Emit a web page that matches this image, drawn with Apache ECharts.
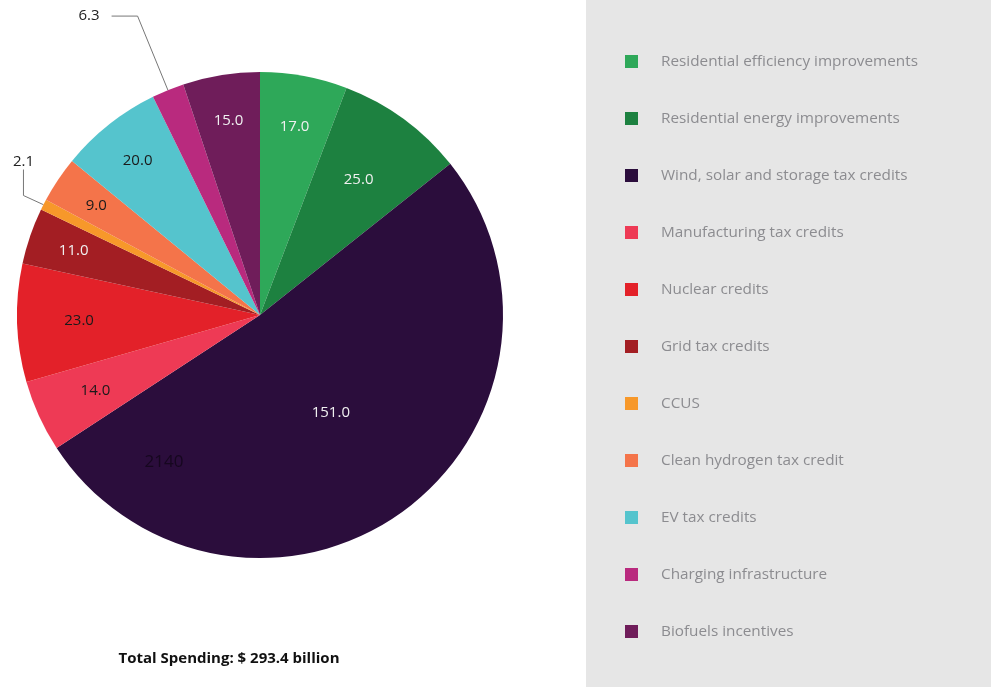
<!DOCTYPE html>
<html>
<head>
<meta charset="utf-8">
<script src="https://cdn.jsdelivr.net/npm/echarts@6/dist/echarts.min.js"></script>
<style>
html,body{margin:0;padding:0;background:#fff;}
#main{width:991px;height:687px;}
</style>
</head>
<body>
<div id="main"></div>
<script>
const categories = [
  'Residential efficiency improvements',
  'Residential energy improvements',
  'Wind, solar and storage tax credits',
  'Manufacturing tax credits',
  'Nuclear credits',
  'Grid tax credits',
  'CCUS',
  'Clean hydrogen tax credit',
  'EV tax credits',
  'Charging infrastructure',
  'Biofuels incentives'
];
const values = [17.0, 25.0, 151.0, 14.0, 23.0, 11.0, 2.1, 9.0, 20.0, 6.3, 15.0];
const totalText = 'Total Spending: $ 293.4 billion';
const strayText = '2140';

const palette = ['#2ea859','#1d8140','#2b0d3c','#ee3a55','#e32129','#a31e23','#f7982a','#f4744a','#55c4cd','#b92a7e','#6f1d5a'];
const labelInk = ['#f0f0f0','#f0f0f0','#f0f0f0','#1a1a1a','#1a1a1a','#f0f0f0','#1a1a1a','#1a1a1a','#1a1a1a','#f0f0f0','#f0f0f0'];
const outsideIdx = [6, 9];

const FONT = '"Open Sans", "Noto Sans", sans-serif';
const CENTER = [260, 315];
const R = 243;

const mainData = categories.map((n, i) => ({
  name: n, value: values[i],
  itemStyle: { color: palette[i] },
  label: { show: outsideIdx.includes(i) }
}));

function labelRingData(idxList) {
  return categories.map((n, i) => ({
    name: n, value: values[i],
    label: { show: idxList.includes(i), color: labelInk[i] }
  }));
}

// ring whose mid-radius equals the wanted label distance
function labelRing(name, labelDist, idxList) {
  return {
    type: 'pie', name: name, silent: true,
    center: CENTER, radius: [2 * labelDist - R, R],
    startAngle: 90, clockwise: true,
    data: labelRingData(idxList),
    legendHoverLink: false,
    itemStyle: { color: 'rgba(0,0,0,0)', borderWidth: 0 },
    label: { position: 'inside', formatter: p => p.value.toFixed(1), fontFamily: FONT, fontSize: 15 },
    labelLine: { show: false }
  };
}

const chart = echarts.init(document.getElementById('main'), null, {renderer: 'canvas'});
chart.setOption({
  animation: false,
  backgroundColor: '#ffffff',
  graphic: [
    { type: 'rect', left: 586, top: 0, z: -10, shape: { width: 405, height: 687 }, style: { fill: '#e6e6e6' } }
  ],
  title: [
    { text: totalText, left: 224, top: 646, textAlign: 'center',
      textStyle: { fontFamily: FONT, fontWeight: 'bold', fontSize: 15, color: '#111' } },
    { text: strayText, left: 159, top: 449, textAlign: 'center',
      textStyle: { fontFamily: FONT, fontWeight: 'normal', fontSize: 17, color: '#16071f' } }
  ],
  legend: {
    orient: 'vertical',
    left: 620, top: 49,
    itemWidth: 13, itemHeight: 13,
    itemGap: 42,
    icon: 'rect',
    data: categories,
    selectedMode: false,
    textStyle: { fontFamily: FONT, fontSize: 15.3, color: '#8c8c90', lineHeight: 14, padding: [0,0,0,18] }
  },
  series: [
    {
      type: 'pie', name: 'main',
      center: CENTER, radius: [0, R],
      startAngle: 90, clockwise: true,
      data: mainData,
      legendHoverLink: false,
      itemStyle: { borderWidth: 0 },
      label: {
        position: 'outside',
        formatter: p => p.value.toFixed(1),
        fontFamily: FONT, fontSize: 15, color: '#222',
        distanceToLabelLine: 12
      },
      labelLine: { show: true, length: 80, length2: 26, lineStyle: { color: '#777', width: 1 } },
      labelLayout: function (p) {
        if (p.dataIndex === 6) return { x: 34, y: 162, align: 'right', verticalAlign: 'middle' };
        return {};
      },
      avoidLabelOverlap: false
    },
    labelRing('ringA', 194, [5, 7, 8, 10]),
    labelRing('ringB', 188, [0]),
    labelRing('ringC', 178, [3, 4]),
    labelRing('ringD', 164, [1]),
    {
      type: 'pie', name: 'deep', silent: true,
      center: CENTER, radius: [0, 236],
      startAngle: 90, clockwise: true,
      data: labelRingData([2]),
      legendHoverLink: false,
      itemStyle: { color: 'rgba(0,0,0,0)', borderWidth: 0 },
      label: { position: 'inside', formatter: p => p.value.toFixed(1), fontFamily: FONT, fontSize: 15 },
      labelLine: { show: false }
    }
  ]
});
</script>
</body>
</html>
